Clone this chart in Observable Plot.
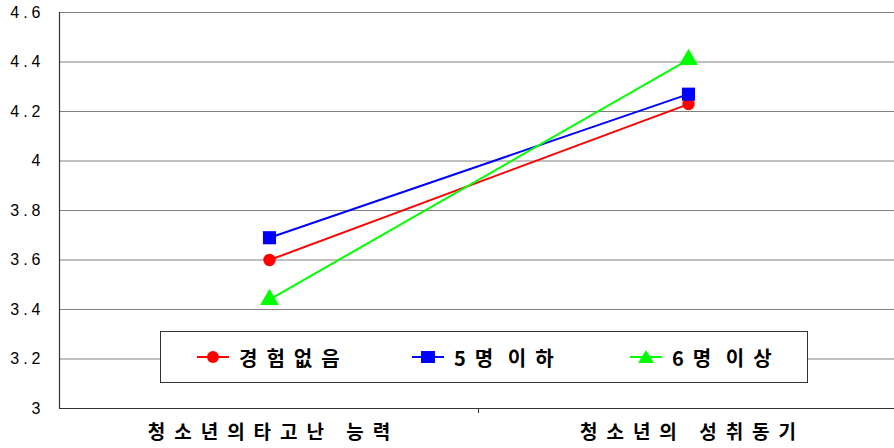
<!DOCTYPE html>
<html>
<head>
<meta charset="utf-8">
<script src="https://cdn.jsdelivr.net/npm/d3@7"></script>
<script src="https://cdn.jsdelivr.net/npm/@observablehq/plot@0.6"></script>
<style>
  html, body { margin: 0; padding: 0; background: #fff; }
  #wrap { position: relative; width: 894px; height: 448px; overflow: hidden; }
  .ylab text { font-family: Arial, "Liberation Sans", sans-serif; font-size: 16px; letter-spacing: 4px; fill: #000; }
  .xlab text { font-family: "Noto Sans CJK KR", sans-serif; font-weight: 700; font-size: 19px; letter-spacing: 9px; fill: #000; }
  #legend { position: absolute; left: 160px; top: 331px; width: 646px; height: 50px; border: 1px solid #333; background: #fff;
            font-family: "Noto Sans CJK KR", sans-serif; font-weight: 700; font-size: 20px; letter-spacing: 9px; word-spacing: -8px; }
  .item { position: absolute; top: 0; height: 50px; display: flex; align-items: center; white-space: nowrap; }
  .item svg { margin-right: 10px; }
</style>
</head>
<body>
<div id="wrap"></div>
<script>
const categories = ["청소년의타고난 능력", "청소년의 성취동기"];
const seriesNames = ["경험없음", "5명 이하", "6명 이상"];
const noneValues = [3.60, 4.23];
const upTo5Values = [3.69, 4.27];
const over6Values = [3.44, 4.41];
const yTicks = [3, 3.2, 3.4, 3.6, 3.8, 4, 4.2, 4.4, 4.6];
const colors = ["#ff0000", "#0000ff", "#00ff00"];
const symbols = ["circle", "square", "triangle"];
const radii = [6.2, 7.4, 7.0];

const allValues = [noneValues, upTo5Values, over6Values];
const rows = [];
seriesNames.forEach((s, i) => categories.forEach((c, j) => rows.push({series: s, cat: c, value: allValues[i][j]})));

const chart = Plot.plot({
  width: 894,
  height: 448,
  marginTop: 12,
  marginBottom: 40,
  marginLeft: 59,
  marginRight: -4,
  x: {type: "point", domain: categories, padding: 0.5, axis: null, label: null},
  y: {domain: [3, 4.6], axis: null, label: null},
  color: {domain: seriesNames, range: colors},
  symbol: {domain: seriesNames, range: symbols},
  marks: [
    Plot.ruleY(yTicks.slice(1), {stroke: "#808080", strokeWidth: 1.2, strokeOpacity: 1}),
    Plot.axisY({ticks: yTicks, tickSize: 0, tickPadding: 15, label: null, tickFormat: d => String(+d.toFixed(1)), className: "ylab"}),
    Plot.axisX({tickSize: 0, tickPadding: 17, dx: 4, label: null, className: "xlab"}),
    Plot.ruleY([3], {stroke: "#333", strokeWidth: 1.2}),
    Plot.lineY(rows, {x: "cat", y: "value", z: "series", stroke: "series", strokeWidth: 2}),
    ...seriesNames.map((s, i) => Plot.dot(rows.filter(r => r.series === s), {x: "cat", y: "value", fill: "series", symbol: "series", r: radii[i], stroke: "none"}))
  ]
});
// left axis line drawn from the y scale
const ys = chart.scale("y");
const svgNS = "http://www.w3.org/2000/svg";
const axisLine = document.createElementNS(svgNS, "line");
axisLine.setAttribute("x1", 59.5); axisLine.setAttribute("x2", 59.5);
axisLine.setAttribute("y1", ys.apply(4.6)); axisLine.setAttribute("y2", ys.apply(3));
axisLine.setAttribute("stroke", "#333"); axisLine.setAttribute("stroke-width", 1.2);
chart.appendChild(axisLine);
// middle category divider tick
const xs = chart.scale("x");
const midX = (xs.apply(categories[0]) + xs.apply(categories[1])) / 2;
const tick = document.createElementNS(svgNS, "line");
tick.setAttribute("x1", midX); tick.setAttribute("x2", midX);
tick.setAttribute("y1", ys.apply(3)); tick.setAttribute("y2", ys.apply(3) + 5);
tick.setAttribute("stroke", "#333");
chart.appendChild(tick);

const wrap = document.getElementById("wrap");
wrap.appendChild(chart);

// legend
const legend = document.createElement("div");
legend.id = "legend";
const itemLeft = [36, 251, 469];
const markerPaths = [
  '<circle cx="16" cy="8" r="6" fill="#ff0000"/>',
  '<rect x="9" y="2" width="14" height="12" fill="#0000ff"/>',
  '<polygon points="16,1 24,14 8,14" fill="#00ff00"/>'
];
seriesNames.forEach((s, i) => {
  const it = document.createElement("div");
  it.className = "item";
  it.style.left = itemLeft[i] + "px";
  it.innerHTML = `<svg width="32" height="16"><line x1="0" x2="32" y1="8" y2="8" stroke="${colors[i]}" stroke-width="2"/>${markerPaths[i]}</svg><span>${s}</span>`;
  legend.appendChild(it);
});
wrap.appendChild(legend);
</script>
</body>
</html>
